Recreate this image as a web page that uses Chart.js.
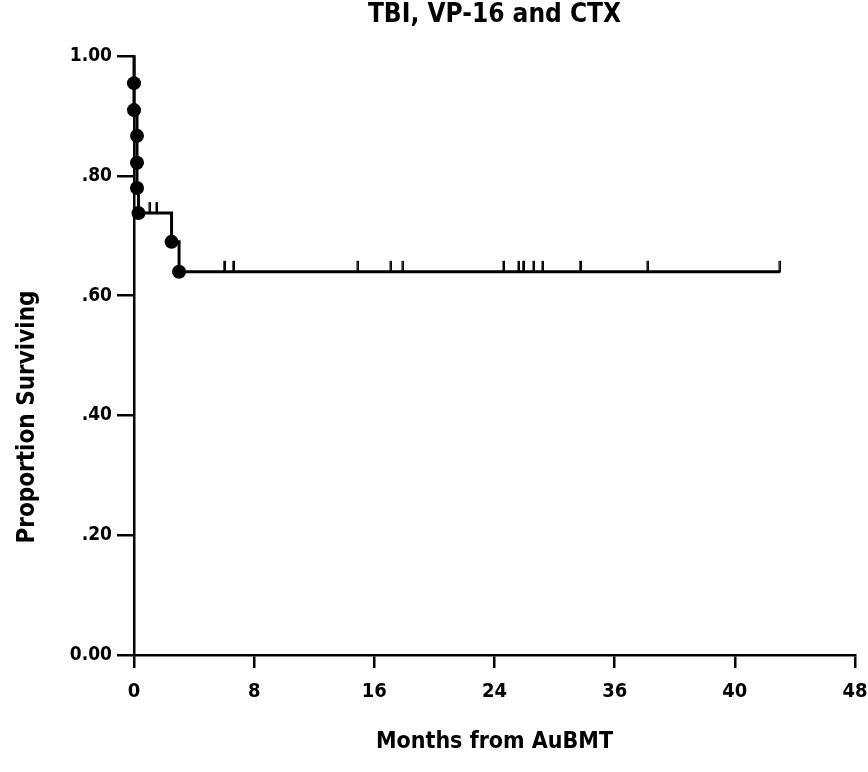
<!DOCTYPE html>
<html>
<head>
<meta charset="utf-8">
<script src="https://cdn.jsdelivr.net/npm/chart.js@4.4.1/dist/chart.umd.min.js"></script>
<style>
  html, body { margin: 0; padding: 0; background: #ffffff; }
  #wrap { width: 868px; height: 772px; position: relative; }
</style>
</head>
<body>
<div id="wrap"><canvas id="c" width="868" height="772"></canvas></div>
<script>
// ---- data ----
const chartTitle = "TBI, VP-16 and CTX";
const xAxisTitle = "Months from AuBMT";
const yAxisTitle = "Proportion Surviving";

const xTickValues = [0, 8, 16, 24, 32, 40, 48];
const xTickLabels = ["0", "8", "16", "24", "36", "40", "48"];
const yTickValues = [0, 0.2, 0.4, 0.6, 0.8, 1.0];
const yTickLabels = ["0.00", ".20", ".40", ".60", ".80", "1.00"];

// deaths (filled dots): month and proportion surviving after the event
const eventMonths   = [0, 0, 0.2, 0.2, 0.2, 0.3, 2.5, 3.0];
const eventSurvival = [0.955, 0.91, 0.867, 0.822, 0.78, 0.738, 0.69, 0.64];

// censored patients (tick marks)
const censorMonths   = [1.05, 1.5, 6.0, 6.6, 14.9, 17.1, 17.9, 24.6, 25.6, 25.9, 26.6, 27.2, 29.7, 34.2, 43.0];
const censorSurvival = [0.738, 0.738, 0.64, 0.64, 0.64, 0.64, 0.64, 0.64, 0.64, 0.64, 0.64, 0.64, 0.64, 0.64, 0.64];

const startPoint = { month: 0, survival: 1.0 };
const lastFollowUp = 43.0;

// ---- build datasets ----
const curve = [{ x: startPoint.month, y: startPoint.survival }]
  .concat(eventMonths.map((m, i) => ({ x: m, y: eventSurvival[i] })))
  .concat([{ x: lastFollowUp, y: eventSurvival[eventSurvival.length - 1] }]);
const dots = eventMonths.map((m, i) => ({ x: m, y: eventSurvival[i] }));
const censors = censorMonths.map((m, i) => ({ x: m, y: censorSurvival[i] }));

const FONT = "'Liberation Sans Narrow', 'DejaVu Sans Condensed', 'Roboto Condensed', sans-serif";

// censor tick glyph: a short vertical stroke rising above the curve
const tickImg = document.createElement('canvas');
tickImg.width = 3; tickImg.height = 24;
(function () {
  const g = tickImg.getContext('2d');
  g.fillStyle = '#000';
  g.fillRect(0.5, 1, 2.5, 11.5);
})();

const yTitlePlugin = {
  id: 'yTitle',
  afterDraw(chart) {
    const ctx = chart.ctx;
    ctx.save();
    ctx.translate(28, 417);
    ctx.rotate(-Math.PI / 2);
    ctx.font = "bold 24px " + FONT;
    ctx.fillStyle = '#000';
    ctx.textAlign = 'center';
    ctx.textBaseline = 'middle';
    ctx.fillText(yAxisTitle, 0, 0);
    ctx.restore();
  }
};

new Chart(document.getElementById('c'), {
  type: 'scatter',
  data: {
    datasets: [
      {
        type: 'line',
        data: curve,
        stepped: 'before',
        borderColor: '#000',
        borderWidth: 3,
        pointRadius: 0,
        fill: false,
        clip: false
      },
      {
        data: dots,
        pointRadius: 7,
        pointBackgroundColor: '#000',
        pointBorderColor: '#000',
        pointBorderWidth: 0,
        clip: false
      },
      {
        data: censors,
        pointStyle: tickImg,
        pointRadius: 6,
        clip: false
      }
    ]
  },
  options: {
    responsive: false,
    animation: false,
    devicePixelRatio: 1,
    layout: { padding: { left: 0, right: 13, top: 0, bottom: 0 } },
    plugins: {
      legend: { display: false },
      tooltip: { enabled: false },
      title: {
        display: true,
        text: chartTitle,
        fullSize: false,
        color: '#000',
        font: { family: FONT, size: 26, weight: 'bold' },
        padding: { top: 0, bottom: 25 }
      }
    },
    scales: {
      x: {
        type: 'linear',
        min: 0,
        max: 48,
        afterBuildTicks: (s) => { s.ticks = xTickValues.map(v => ({ value: v })); },
        afterFit: (s) => { s.height = 117; s.paddingRight = 0; s.paddingLeft = 0; },
        ticks: {
          color: '#000',
          font: { family: FONT, size: 20, weight: 'bold' },
          padding: 12,
          maxRotation: 0,
          autoSkip: false,
          callback: (v) => xTickLabels[xTickValues.indexOf(v)]
        },
        grid: { drawOnChartArea: false, drawTicks: true, tickLength: 13, color: '#000', lineWidth: 2.5 },
        border: { display: true, color: '#000', width: 2.5 },
        title: {
          display: true,
          text: xAxisTitle,
          color: '#000',
          font: { family: FONT, size: 23, weight: 'bold' },
          padding: { top: 0, bottom: 16 }
        }
      },
      y: {
        type: 'linear',
        min: 0,
        max: 1,
        afterBuildTicks: (s) => { s.ticks = yTickValues.map(v => ({ value: v })); },
        afterFit: (s) => { s.width = 134; },
        ticks: {
          color: '#000',
          font: { family: FONT, size: 19, weight: 'bold' },
          padding: 5,
          autoSkip: false,
          callback: (v) => yTickLabels[yTickValues.findIndex(t => Math.abs(t - v) < 1e-9)]
        },
        grid: { drawOnChartArea: false, drawTicks: true, tickLength: 17, color: '#000', lineWidth: 2.5 },
        border: { display: true, color: '#000', width: 2.5 }
      }
    }
  },
  plugins: [yTitlePlugin]
});
</script>
</body>
</html>
